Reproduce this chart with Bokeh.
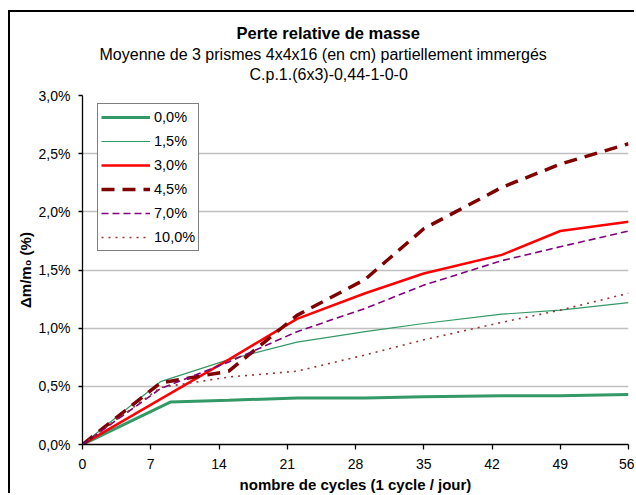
from bokeh.plotting import figure
from bokeh.models import (Title, Legend, LegendItem, FixedTicker,
                          CustomJSTickFormatter, Range1d)
from bokeh.embed import file_html
from bokeh.resources import INLINE

# ---------------- data ----------------
days = [0, 8, 15, 22, 29, 35, 43, 49, 56]
days_00 = [0, 9, 15, 22, 29, 35, 43, 49, 56]
s_00 = [0.0, 0.365, 0.38, 0.40, 0.40, 0.41, 0.42, 0.42, 0.43]
s_15 = [0.0, 0.54, 0.73, 0.88, 0.97, 1.04, 1.12, 1.155, 1.22]
s_30 = [0.0, 0.39, 0.73, 1.08, 1.30, 1.47, 1.63, 1.835, 1.915]
s_45 = [0.0, 0.53, 0.63, 1.11, 1.42, 1.855, 2.21, 2.41, 2.585]
s_70 = [0.0, 0.48, 0.71, 0.97, 1.17, 1.37, 1.58, 1.70, 1.835]
s_100 = [0.0, 0.49, 0.58, 0.63, 0.77, 0.90, 1.05, 1.155, 1.30]
labels = ["0,0%", "1,5%", "3,0%", "4,5%", "7,0%", "10,0%"]
x_ticks = [0, 7, 14, 21, 28, 35, 42, 49, 56]
y_ticks = [0.0, 0.5, 1.0, 1.5, 2.0, 2.5, 3.0]

title1 = "Perte relative de masse"
title2 = "Moyenne de 3 prismes 4x4x16 (en cm) partiellement immergés"
title3 = "C.p.1.(6x3)-0,44-1-0-0"
xlabel = "nombre de cycles (1 cycle / jour)"
ylabel = "\u0394m/m\u2080 (%)"

FONT = "Liberation Sans"

p = figure(width=626, height=483, output_backend="svg", toolbar_location=None,
           x_range=Range1d(0, 56), y_range=Range1d(0, 3.0),
           min_border_left=72, min_border_right=8, min_border_top=83,
           min_border_bottom=51)
p.styles = {"margin-left": "8px", "margin-top": "10px",
            "border-left": "2px solid black", "border-top": "2px solid black"}
p.outline_line_color = None
p.background_fill_color = "white"
p.border_fill_color = "white"

# grid
p.xgrid.grid_line_color = None
p.ygrid.grid_line_color = "#c0c0c0"
p.ygrid.grid_line_width = 1.3
p.ygrid.ticker = FixedTicker(ticks=y_ticks)

# axes
p.xaxis.ticker = FixedTicker(ticks=x_ticks)
p.yaxis.ticker = FixedTicker(ticks=y_ticks)
p.yaxis.formatter = CustomJSTickFormatter(code="return tick.toFixed(1).replace('.', ',') + '%';")
for ax in (p.xaxis[0], p.yaxis[0]):
    ax.axis_line_color = "black"
    ax.axis_line_width = 1.3
    ax.major_tick_line_color = "black"
    ax.major_tick_line_width = 1.3
    ax.minor_tick_line_color = None
    ax.major_label_text_font = FONT
    ax.major_label_text_font_size = "14px"
    ax.major_label_text_color = "black"
    ax.axis_label_text_font = FONT
    ax.axis_label_text_font_size = "15px"
    ax.axis_label_text_font_style = "bold"
    ax.axis_label_text_color = "black"
p.xaxis.major_tick_in = 0
p.xaxis.major_tick_out = 5
p.yaxis.major_tick_in = 0
p.yaxis.major_tick_out = 4
p.xaxis.major_label_standoff = 9
p.yaxis.major_label_standoff = 8
p.xaxis.axis_label = xlabel
p.yaxis.axis_label = ylabel
p.xaxis.axis_label_standoff = 4
p.yaxis.axis_label_standoff = 2

# series
r0 = p.line(days_00, s_00, line_color="#339966", line_width=3)
r1 = p.line(days, s_15, line_color="#339966", line_width=1.2)
r2 = p.line(days, s_30, line_color="#ff0000", line_width=2.5)
r3 = p.line(days, s_45, line_color="#800000", line_width=3.5, line_dash="13 8")
r4 = p.line(days, s_70, line_color="#800080", line_width=1.6, line_dash="7 4")
r5 = p.line(days, s_100, line_color="#993333", line_width=1.6, line_dash="2 5")

legend = Legend(items=[LegendItem(label=l, renderers=[r]) for l, r in
                       zip(labels, [r0, r1, r2, r3, r4, r5])],
                location=(15, 193))
legend.border_line_color = "black"
legend.border_line_width = 1.2
legend.background_fill_color = "white"
legend.background_fill_alpha = 1
legend.label_text_font = FONT
legend.label_text_font_size = "14.5px"
legend.label_text_color = "black"
legend.glyph_width = 49
legend.glyph_height = 20
legend.label_height = 20
legend.spacing = 4
legend.padding = 3
legend.margin = 0
legend.label_standoff = 4
p.add_layout(legend, "center")

# titles: added from the frame outward (first one is a spacer)
p.add_layout(Title(text=" ", text_font=FONT, text_font_size="1px",
                   standoff=10), "above")
p.add_layout(Title(text=title3, align="left", offset=167, text_font=FONT,
                   text_font_size="16px", text_font_style="normal",
                   text_color="black", standoff=0), "above")
p.add_layout(Title(text=title2, align="left", offset=17, text_font=FONT,
                   text_font_size="16px", text_font_style="normal",
                   text_color="black", standoff=1), "above")
p.add_layout(Title(text=title1, align="left", offset=154, text_font=FONT,
                   text_font_size="16.5px", text_font_style="bold",
                   text_color="black", standoff=3), "above")

open("out.html", "w").write(file_html(p, INLINE))
